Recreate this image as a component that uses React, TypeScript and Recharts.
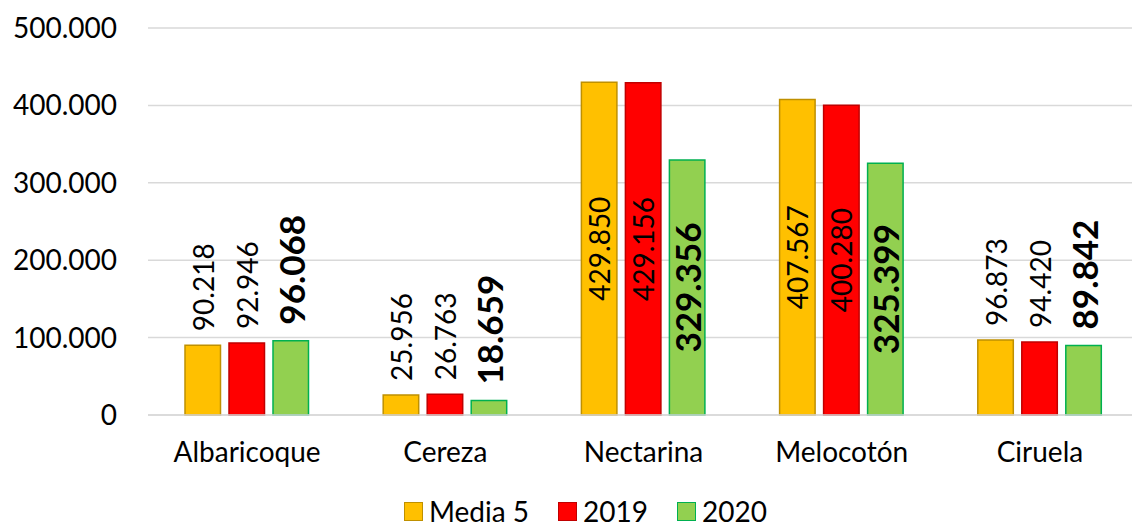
import React from 'react';
import { BarChart, Bar, XAxis, YAxis, CartesianGrid, Legend } from 'recharts';

const categories = ['Albaricoque', 'Cereza', 'Nectarina', 'Melocotón', 'Ciruela'];
const media5 = [90218, 25956, 429850, 407567, 96873];
const y2019 = [92946, 26763, 429156, 400280, 94420];
const y2020 = [96068, 18659, 329356, 325399, 89842];
const yTicks = [0, 100000, 200000, 300000, 400000, 500000];

const FONT = 'Lato, "Open Sans", sans-serif';

const series = [
  { key: 'media5', name: 'Media 5', fill: '#FFC000', stroke: '#BF9000', bold: false },
  { key: 'y2019', name: '2019', fill: '#FF0000', stroke: '#C00000', bold: false },
  { key: 'y2020', name: '2020', fill: '#92D050', stroke: '#00B050', bold: true },
];

const data = categories.map((name, i) => ({
  name,
  media5: media5[i],
  y2019: y2019[i],
  y2020: y2020[i],
}));

// spanish style thousands separator
const fmt = (v: number) => (v === 0 ? '0' : String(v).replace(/\B(?=(\d{3})+(?!\d))/g, '.'));

const makeLabel = (bold: boolean) => (props: any) => {
  const { x, y, width, height, value } = props;
  const cx = Number(x) + Number(width) / 2;
  const size = bold ? 35 : 28;
  // big bars get the label in the middle, small ones above the bar
  if (value > 200000) {
    const cy = Number(y) + Number(height) / 2;
    return (
      <text
        x={cx}
        y={cy}
        transform={`rotate(-90, ${cx}, ${cy})`}
        textAnchor="middle"
        dominantBaseline="central"
        fontFamily={FONT}
        fontSize={size}
        fontWeight={bold ? 700 : 400}
        fill="#000"
      >
        {fmt(value)}
      </text>
    );
  }
  const ty = Number(y) - (bold ? 16 : 14);
  return (
    <text
      x={cx}
      y={ty}
      transform={`rotate(-90, ${cx}, ${ty})`}
      textAnchor="start"
      dominantBaseline="central"
      fontFamily={FONT}
      fontSize={size}
      fontWeight={bold ? 700 : 400}
      fill="#000"
    >
      {fmt(value)}
    </text>
  );
};

const LegendContent = () => (
  <div
    style={{
      display: 'flex',
      justifyContent: 'center',
      alignItems: 'center',
      paddingTop: 22,
      paddingLeft: 32,
      fontFamily: FONT,
      fontSize: 28,
      lineHeight: '28px',
      color: '#000',
    }}
  >
    {series.map((s, i) => (
      <div
        key={s.key}
        style={{ display: 'flex', alignItems: 'center', marginLeft: i === 0 ? 0 : 29 }}
      >
        <span
          style={{
            display: 'inline-block',
            width: 17,
            height: 17,
            background: s.fill,
            border: `1.5px solid ${s.stroke}`,
            marginRight: 6,
          }}
        />
        <span>{s.name}</span>
      </div>
    ))}
  </div>
);

export default function App() {
  return (
    <div
      style={{
        position: 'absolute',
        left: 0,
        top: 0,
        width: 1132,
        height: 529,
        overflow: 'hidden',
        background: '#fff',
      }}
    >
      <BarChart
        width={1139}
        height={529}
        data={data}
        margin={{ top: 28, right: 0, left: 0, bottom: 0 }}
        barSize={35.5}
        barGap={8.5}
      >
        <CartesianGrid vertical={false} stroke="#D9D9D9" strokeWidth={1.5} />
        <XAxis
          dataKey="name"
          height={60}
          axisLine={{ stroke: '#D9D9D9', strokeWidth: 1.5 }}
          tickLine={false}
          tickSize={0}
          tickMargin={27}
          tick={{ fontFamily: FONT, fontSize: 28, fill: '#000' }}
          interval={0}
        />
        <YAxis
          width={148}
          domain={[0, 500000]}
          ticks={yTicks}
          tickFormatter={fmt}
          axisLine={false}
          tickLine={false}
          tickSize={0}
          tickMargin={31}
          tick={{ fontFamily: FONT, fontSize: 28, fill: '#000' }}
        />
        <Legend verticalAlign="bottom" height={54} content={<LegendContent />} />
        {series.map((s) => (
          <Bar
            key={s.key}
            dataKey={s.key}
            name={s.name}
            fill={s.fill}
            stroke={s.stroke}
            strokeWidth={1.5}
            isAnimationActive={false}
            label={makeLabel(s.bold)}
          />
        ))}
      </BarChart>
    </div>
  );
}
